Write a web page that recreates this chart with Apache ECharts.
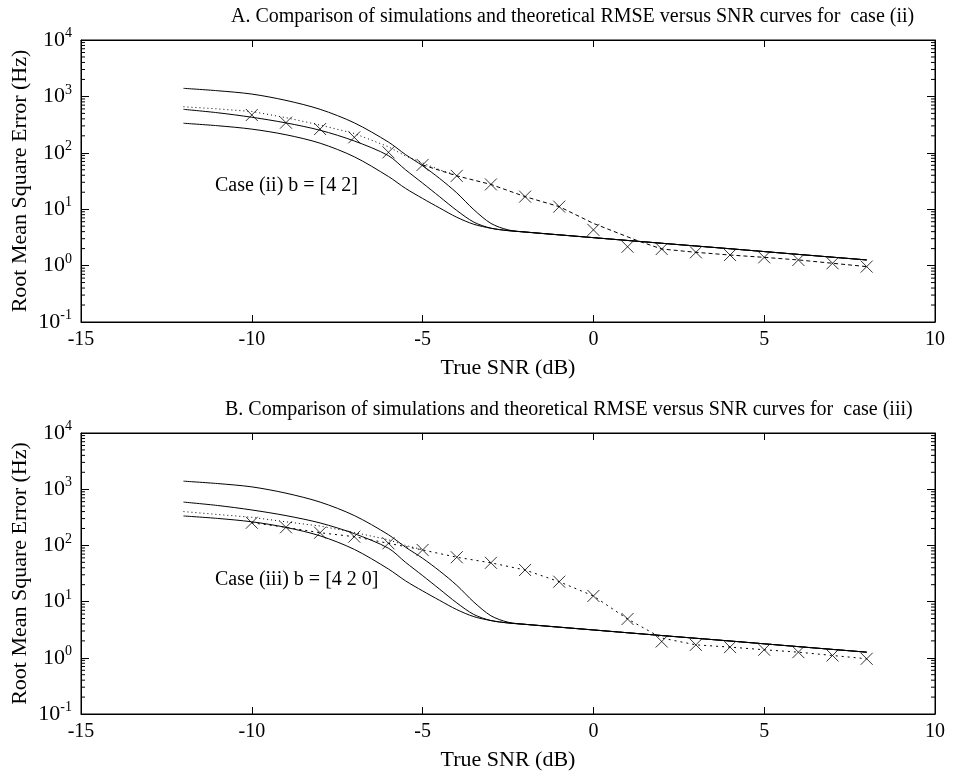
<!DOCTYPE html>
<html>
<head>
<meta charset="utf-8">
<script src="https://cdn.jsdelivr.net/npm/echarts@6/dist/echarts.min.js"></script>
<style>
  html, body { margin: 0; padding: 0; background: #fff; }
  #chart { width: 953px; height: 774px; }
</style>
</head>
<body>
<div id="chart"></div>
<script>
// ---- Theoretical RMSE curves (Hz) versus SNR (dB); identical in both panels ----
const theoryX      = [-12, -11, -10, -9, -8, -7, -6, -5.5, -5, -4.5, -4, -3.5, -3, -2.5, -2, 0, 2, 4, 6, 8];
const theoryUpper  = [1390, 1260, 1100, 850, 590, 340, 155, 93, 59, 35, 19.5, 9.8, 5.6, 4.3, 3.94, 3.13, 2.49, 1.99, 1.58, 1.26];
const theoryMiddle = [590, 513, 427, 339, 251, 162, 89, 50, 29, 16.6, 9.5, 5.9, 4.6, 4.17, 3.94, 3.13, 2.49, 1.99, 1.58, 1.26];
const theoryLower  = [334, 302, 263, 209, 148, 85, 38, 23.4, 15.5, 10.5, 7.2, 5.4, 4.6, 4.17, 3.94, 3.13, 2.49, 1.99, 1.58, 1.26];

// ---- Simulated RMSE (x markers) ----
const simX = [-10, -9, -8, -7, -6, -5, -4, -3, -2, -1, 0, 1, 2, 3, 4, 5, 6, 7, 8];
const simA = [468, 342, 264, 188, 102, 61, 39, 27.5, 16.7, 11.1, 4.3, 2.16, 1.97, 1.72, 1.54, 1.40, 1.26, 1.10, 0.96];
const simB = [253, 210, 168, 143, 109, 83, 61.6, 49, 36.5, 22.6, 12.6, 4.9, 1.95, 1.70, 1.55, 1.39, 1.26, 1.10, 0.96];

// ---- Panel A: dotted curve and dashed curve ----
const dotAX  = [-12, -11, -10, -9, -8, -7, -6, -5.5, -5, -4.5, -4];
const dotA   = [656, 600, 540, 420, 310, 220, 128, 88, 66, 50, 40];
const dashAX = [-5, -4, -3, -2, -1, 0, 1.3, 2, 3, 4, 5, 6, 7, 8];
const dashA  = [61, 39, 27.5, 16.7, 11.1, 5.6, 2.75, 1.97, 1.72, 1.54, 1.40, 1.26, 1.10, 0.96];

// ---- Panel B: dotted curves ----
const dotBX  = [-12, -11, -10, -9, -8, -7, -6, -5.5, -5];
const dotB   = [400, 355, 316, 263, 221, 170, 126, 100, 84];
const lineBX = [-10, -9, -8, -7, -6, -5, -4, -3, -2, -1, 0, 1, 2, 3, 4, 5, 6, 7, 8];
const lineB  = [253, 210, 168, 143, 109, 83, 61.6, 49, 36.5, 22.6, 12.6, 4.9, 2.25, 1.70, 1.55, 1.39, 1.26, 1.10, 0.96];

// ---- Axis settings ----
const xTicks = [-15, -10, -5, 0, 5, 10];
const yMin = 0.1, yMax = 10000;
const decades = [0.1, 1, 10, 100, 1000];
const minorMultipliers = [2, 3, 4, 5, 6, 7, 8, 9];

const titles = [
  'A. Comparison of simulations and theoretical RMSE versus SNR curves for  case (ii)',
  'B. Comparison of simulations and theoretical RMSE versus SNR curves for  case (iii)'
];
const caseLabels = ['Case (ii) b = [4 2]', 'Case (iii) b = [4 2 0]'];

const FONT = '"Liberation Serif", "Times New Roman", serif';
const BLACK = '#000';

const minorTicks = [];
decades.forEach(d => minorMultipliers.forEach(m => minorTicks.push(d * m)));

const zip = (xs, ys) => xs.map((x, i) => [x, ys[i]]);

const grids = [
  { left: 81, top: 40, width: 854, height: 282 },
  { left: 81, top: 433, width: 854, height: 281 }
];

const xAxes = [], yAxes = [], series = [];

grids.forEach((g, gi) => {
  // bottom axis with labels
  xAxes.push({
    type: 'value', gridIndex: gi, position: 'bottom',
    min: xTicks[0], max: xTicks[xTicks.length - 1], interval: 5,
    axisLine: { show: true, onZero: false, lineStyle: { color: BLACK, width: 1 } },
    axisTick: { show: true, inside: true, length: 7, lineStyle: { color: BLACK } },
    axisLabel: { color: BLACK, fontFamily: FONT, fontSize: 20, margin: 8 },
    splitLine: { show: false },
    name: 'True SNR (dB)', nameLocation: 'middle', nameGap: 35,
    nameTextStyle: { color: BLACK, fontFamily: FONT, fontSize: 22 }
  });
  // top axis (ticks only)
  xAxes.push({
    type: 'value', gridIndex: gi, position: 'top',
    min: xTicks[0], max: xTicks[xTicks.length - 1], interval: 5,
    axisLine: { show: true, onZero: false, lineStyle: { color: BLACK, width: 1 } },
    axisTick: { show: true, inside: true, length: 7, lineStyle: { color: BLACK } },
    axisLabel: { show: false }, splitLine: { show: false }
  });
  // left log axis with labels
  yAxes.push({
    type: 'log', logBase: 10, gridIndex: gi, position: 'left',
    min: yMin, max: yMax,
    axisLine: { show: true, onZero: false, lineStyle: { color: BLACK, width: 1 } },
    axisTick: { show: true, inside: true, length: 8, lineStyle: { color: BLACK } },
    axisLabel: {
      margin: 9,
      formatter: v => '{b|10}{s|' + Math.round(Math.log10(v)) + '}',
      rich: {
        b: { color: BLACK, fontFamily: FONT, fontSize: 22 },
        s: { color: BLACK, fontFamily: FONT, fontSize: 14, padding: [0, 0, 13, 0] }
      }
    },
    splitLine: { show: false },
    name: 'Root Mean Square Error (Hz)', nameLocation: 'middle', nameGap: 50, nameRotate: 90,
    nameMoveOverlap: false,
    nameTextStyle: { color: BLACK, fontFamily: FONT, fontSize: 22 }
  });
  // right log axis (ticks only)
  yAxes.push({
    type: 'log', logBase: 10, gridIndex: gi, position: 'right',
    min: yMin, max: yMax,
    axisLine: { show: true, onZero: false, lineStyle: { color: BLACK, width: 1 } },
    axisTick: { show: true, inside: true, length: 8, lineStyle: { color: BLACK } },
    axisLabel: { show: false }, splitLine: { show: false }
  });

  const xi = gi * 2, yi = gi * 2;

  // minor log ticks on left and right frame edges
  series.push({
    type: 'custom', xAxisIndex: xi, yAxisIndex: yi, silent: true, clip: false,
    data: minorTicks.map(v => [xTicks[0], v]),
    renderItem: (params, api) => {
      const cs = params.coordSys;
      const y = api.coord([api.value(0), api.value(1)])[1];
      const st = { stroke: BLACK, lineWidth: 1 };
      return {
        type: 'group',
        children: [
          { type: 'line', shape: { x1: cs.x, y1: y, x2: cs.x + 4, y2: y }, style: st },
          { type: 'line', shape: { x1: cs.x + cs.width - 4, y1: y, x2: cs.x + cs.width, y2: y }, style: st }
        ]
      };
    }
  });

  const solid = data => ({
    type: 'line', xAxisIndex: xi, yAxisIndex: yi, data, showSymbol: false,
    smooth: 0.3, silent: true,
    lineStyle: { color: BLACK, width: 1 }
  });
  series.push(solid(zip(theoryX, theoryUpper)));
  series.push(solid(zip(theoryX, theoryMiddle)));
  series.push(solid(zip(theoryX, theoryLower)));

  const styled = (data, type) => ({
    type: 'line', xAxisIndex: xi, yAxisIndex: yi, data, showSymbol: false,
    smooth: false, silent: true,
    lineStyle: { color: BLACK, width: 1, type }
  });

  if (gi === 0) {
    series.push(styled(zip(dotAX, dotA), [1, 3]));
    series.push(styled(zip(dashAX, dashA), [4, 3]));
  } else {
    series.push(styled(zip(dotBX, dotB), [1, 3]));
    series.push(styled(zip(lineBX, lineB), [2, 4]));
  }

  series.push({
    type: 'scatter', xAxisIndex: xi, yAxisIndex: yi,
    data: zip(simX, gi === 0 ? simA : simB),
    symbol: 'path://M0,0L10,10M10,0L0,10', symbolSize: 12, silent: true,
    itemStyle: { color: 'rgba(0,0,0,0)', borderColor: BLACK, borderWidth: 1 }
  });
});

const chart = echarts.init(document.getElementById('chart'), null, { renderer: 'canvas' });
chart.setOption({
  animation: false,
  backgroundColor: '#fff',
  grid: grids.map(g => Object.assign({
    show: true, borderColor: BLACK, borderWidth: 1, backgroundColor: 'transparent',
    containLabel: false, outerBoundsMode: 'none'
  }, g)),
  xAxis: xAxes,
  yAxis: yAxes,
  series,
  graphic: [
    { type: 'text', left: 231, top: 7, style: { text: titles[0], font: '20px ' + FONT, fill: BLACK } },
    { type: 'text', left: 225, top: 400, style: { text: titles[1], font: '20px ' + FONT, fill: BLACK } },
    { type: 'text', left: 215, top: 176, style: { text: caseLabels[0], font: '20px ' + FONT, fill: BLACK } },
    { type: 'text', left: 215, top: 570, style: { text: caseLabels[1], font: '20px ' + FONT, fill: BLACK } }
  ]
});
</script>
</body>
</html>
